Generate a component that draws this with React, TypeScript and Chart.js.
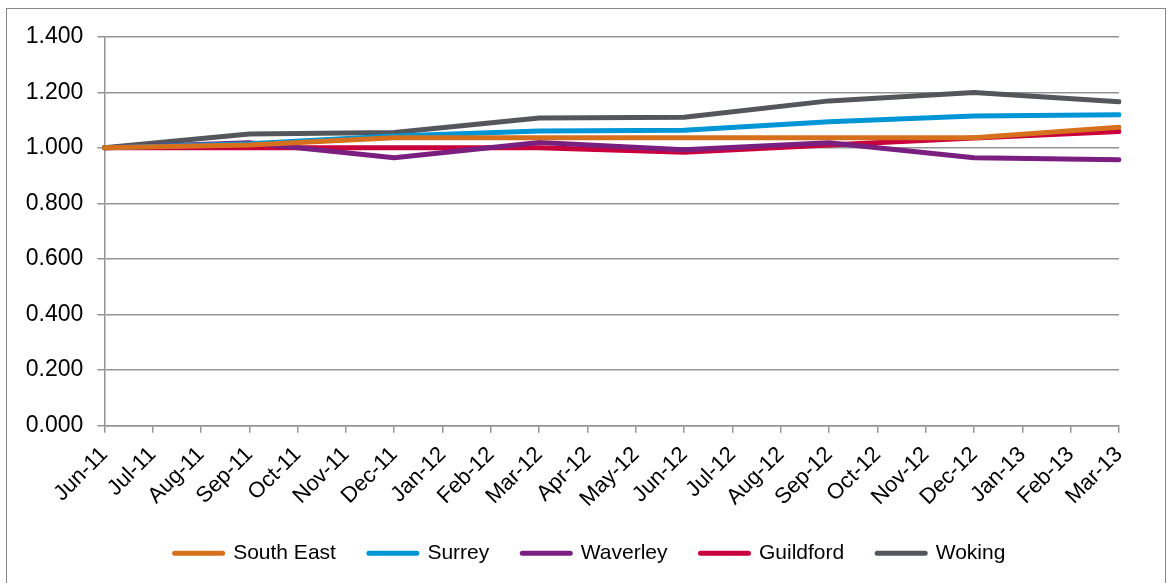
import React, { useEffect, useRef } from 'react';
import { Chart, registerables } from 'chart.js';

Chart.register(...registerables);

const months = [
  'Jun-11', 'Jul-11', 'Aug-11', 'Sep-11', 'Oct-11', 'Nov-11', 'Dec-11', 'Jan-12',
  'Feb-12', 'Mar-12', 'Apr-12', 'May-12', 'Jun-12', 'Jul-12', 'Aug-12', 'Sep-12',
  'Oct-12', 'Nov-12', 'Dec-12', 'Jan-13', 'Feb-13', 'Mar-13',
];

// quarterly readings (null = no reading that month)
const southEast = [1.0, null, null, 1.01, null, null, 1.036, null, null, 1.036, null, null, 1.036, null, null, 1.036, null, null, 1.036, null, null, 1.074];
const surrey = [1.0, null, null, 1.015, null, null, 1.043, null, null, 1.061, null, null, 1.063, null, null, 1.094, null, null, 1.115, null, null, 1.119];
const waverley = [1.0, null, null, 1.018, null, null, 0.964, null, null, 1.019, null, null, 0.993, null, null, 1.018, null, null, 0.964, null, null, 0.957];
const guildford = [1.0, null, null, 1.0, null, null, 1.0, null, null, 1.0, null, null, 0.984, null, null, 1.01, null, null, 1.035, null, null, 1.059];
const woking = [1.0, null, null, 1.05, null, null, 1.055, null, null, 1.107, null, null, 1.11, null, null, 1.169, null, null, 1.199, null, null, 1.166];

const seriesNames = ['South East', 'Surrey', 'Waverley', 'Guildford', 'Woking'];
const seriesColors = ['#d6701d', '#0096d6', '#7a1f80', '#c8003c', '#53565a'];
const seriesValues = [southEast, surrey, waverley, guildford, woking];

const FONT = "'Liberation Sans', Arial, sans-serif";
const GRID = '#949494';

export default function App() {
  const ref = useRef<HTMLCanvasElement | null>(null);

  useEffect(() => {
    if (!ref.current) return;
    const chart = new Chart(ref.current, {
      type: 'line',
      data: {
        labels: months,
        datasets: seriesNames.map((name, i) => ({
          label: name,
          data: seriesValues[i],
          borderColor: seriesColors[i],
          backgroundColor: seriesColors[i],
          borderWidth: 5,
          pointRadius: 0,
          pointHoverRadius: 0,
          tension: 0,
          spanGaps: true,
          fill: false,
          borderCapStyle: 'round',
          borderJoinStyle: 'round',
          yAxisID: 'y',
        })),
      },
      options: {
        responsive: false,
        animation: false,
        layout: { padding: { left: 11, right: 0, top: 36.7, bottom: 9.2 } },
        plugins: {
          tooltip: { enabled: false },
          legend: {
            position: 'bottom',
            labels: {
              usePointStyle: true,
              pointStyle: 'line',
              pointStyleWidth: 48,
              padding: 33,
              color: '#000',
              font: { size: 21, family: FONT },
              generateLabels: (c: any) =>
                Chart.defaults.plugins.legend.labels.generateLabels(c).map((it: any, i: number) => ({
                  ...it,
                  lineCap: 'round',
                  lineWidth: 5,
                  strokeStyle: seriesColors[i],
                  fillStyle: seriesColors[i],
                })),
            },
          },
        },
        scales: {
          x: {
            type: 'category',
            offset: false,
            grid: { display: true, drawOnChartArea: false, drawTicks: true, tickLength: 7, color: GRID, lineWidth: 1.5 },
            border: { display: true, color: GRID, width: 1.5 },
            ticks: {
              autoSkip: false,
              maxRotation: 45,
              minRotation: 45,
              padding: 9,
              color: '#000',
              font: { size: 22, family: FONT },
            },
            afterFit: (s: any) => { s.height = 84.1; },
          },
          y: {
            position: 'left',
            min: 0,
            max: 1.4,
            grid: { color: GRID, lineWidth: 1.5, tickLength: 7, drawTicks: true },
            border: { display: true, color: GRID, width: 1.5 },
            ticks: {
              stepSize: 0.2,
              padding: 14,
              color: '#000',
              font: { size: 23, family: FONT },
              callback: (v: any) => Number(v).toFixed(3),
            },
            afterFit: (s: any) => { s.width = 93.3; },
          },
          yRight: {
            position: 'right',
            display: true,
            grid: { display: false },
            border: { display: false },
            ticks: { display: false },
            afterFit: (s: any) => { s.width = 50; },
          },
        },
      },
    } as any);
    return () => chart.destroy();
  }, []);

  return (
    <div style={{ position: 'absolute', left: 0, top: 0, width: 1169, height: 583, background: '#fff', overflow: 'hidden' }}>
      <div style={{ position: 'absolute', left: 6, top: 8, width: 1158, height: 600, border: '1px solid #878787', pointerEvents: 'none' }} />
      <canvas ref={ref} width={1169} height={583} style={{ position: 'absolute', left: 0, top: 0, width: 1169, height: 583 }} />
    </div>
  );
}
